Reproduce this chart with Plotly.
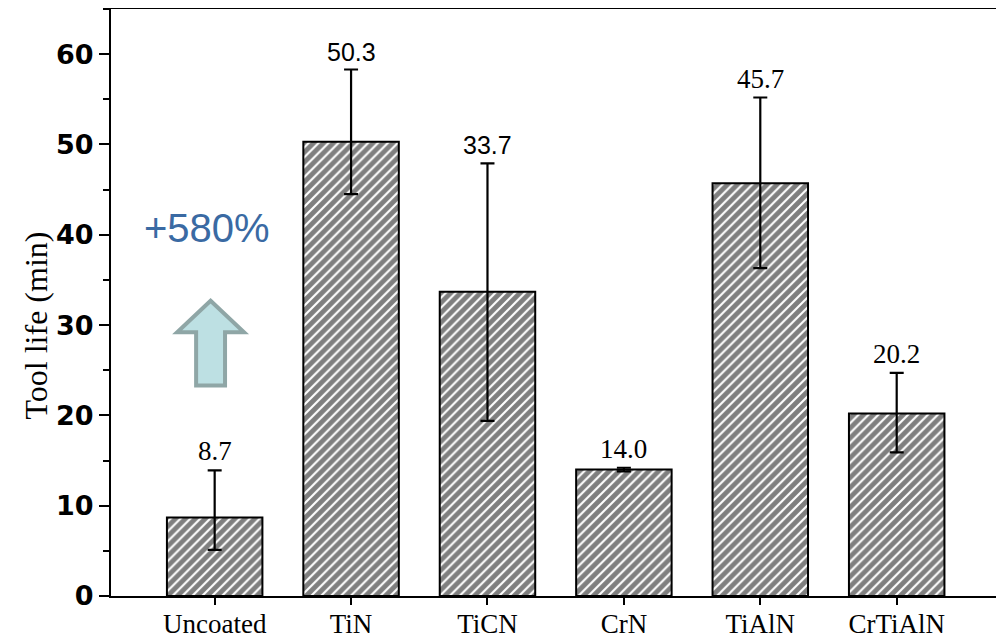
import plotly.graph_objects as go

# ---- data ----
categories = ["Uncoated", "TiN", "TiCN", "CrN", "TiAlN", "CrTiAlN"]
tool_life = [8.7, 50.3, 33.7, 14.0, 45.7, 20.2]
err_plus = [5.2, 8.0, 14.2, 0.2, 9.5, 4.5]
err_minus = [3.6, 5.8, 14.3, 0.2, 9.4, 4.3]
value_labels = ["8.7", "50.3", "33.7", "14.0", "45.7", "20.2"]
label_fonts = ["Liberation Serif", "Liberation Sans", "Liberation Sans",
               "Liberation Serif", "Liberation Serif", "Liberation Serif"]
label_sizes = [27, 25, 25, 27, 27, 27]
y_ticks = [0, 10, 20, 30, 40, 50, 60]
gain_text = "+580%"

x_idx = list(range(len(categories)))

fig = go.Figure()
fig.add_trace(go.Bar(
    x=x_idx, y=tool_life, width=0.70,
    marker=dict(
        color="white",
        line=dict(color="black", width=2),
        pattern=dict(shape="/", fgcolor="black", bgcolor="white", size=7, solidity=0.7),
    ),
    error_y=dict(type="data", symmetric=False, array=err_plus, arrayminus=err_minus,
                 color="black", thickness=2.2, width=7),
    showlegend=False,
))

annotations = []
for i, (v, p, t, f, s) in enumerate(zip(tool_life, err_plus, value_labels, label_fonts, label_sizes)):
    annotations.append(dict(x=i, y=v + p, xref="x", yref="y", text=t, showarrow=False,
                            yanchor="bottom", yshift=2,
                            font=dict(family=f, size=s, color="black")))

# axis title as annotation for placement
annotations.append(dict(x=-0.085, y=0.46, xref="paper", yref="paper", text="Tool life (min)",
                        textangle=-90, showarrow=False, xanchor="center", yanchor="middle",
                        font=dict(family="Liberation Serif", size=32, color="black")))
# +580% text
annotations.append(dict(x=-0.055, y=40.8, xref="x", yref="y", text=gain_text, showarrow=False,
                        xanchor="center", yanchor="middle",
                        font=dict(family="Liberation Sans", size=40, color="#3a6aa3")))

# block up-arrow (decoration) in data coordinates
ax_c, tip_y, head_y, bot_y = -0.03, 32.7, 29.2, 23.3
head_hw, shaft_hw = 0.245, 0.106
arrow_path = (f"M {ax_c},{tip_y} L {ax_c+head_hw},{head_y} L {ax_c+shaft_hw},{head_y} "
              f"L {ax_c+shaft_hw},{bot_y} L {ax_c-shaft_hw},{bot_y} L {ax_c-shaft_hw},{head_y} "
              f"L {ax_c-head_hw},{head_y} Z")

# page body has an 8px margin; size figure to fit the 1004x642 window
fig.update_layout(
    width=996, height=634,
    margin=dict(l=103, r=5, t=1, b=46),
    paper_bgcolor="white", plot_bgcolor="white",
    annotations=annotations,
    shapes=[dict(type="path", path=arrow_path, xref="x", yref="y",
                 fillcolor="#bde0e3", line=dict(color="#8fa6a6", width=4))],
    xaxis=dict(
        range=[-0.76, 5.75], tickmode="array", tickvals=x_idx, ticktext=categories,
        ticks="outside", ticklen=7, tickwidth=2, tickcolor="black",
        showline=True, linecolor="black", linewidth=2, mirror=True,
        showgrid=False, zeroline=False, automargin=False, ticklabelstandoff=-4,
        tickfont=dict(family="Liberation Serif", size=27, color="black"),
    ),
    yaxis=dict(
        range=[0, 65], tickmode="array", tickvals=y_ticks,
        ticks="outside", ticklen=10, tickwidth=2, tickcolor="black",
        minor=dict(dtick=5, ticks="outside", ticklen=6, tickwidth=2, tickcolor="black"),
        showline=True, linecolor="black", linewidth=2, mirror=True,
        showgrid=False, zeroline=False, automargin=False,
        tickfont=dict(family="DejaVu Sans", size=27, color="black", weight="bold"),
    ),
)

fig.write_html("out.html")
